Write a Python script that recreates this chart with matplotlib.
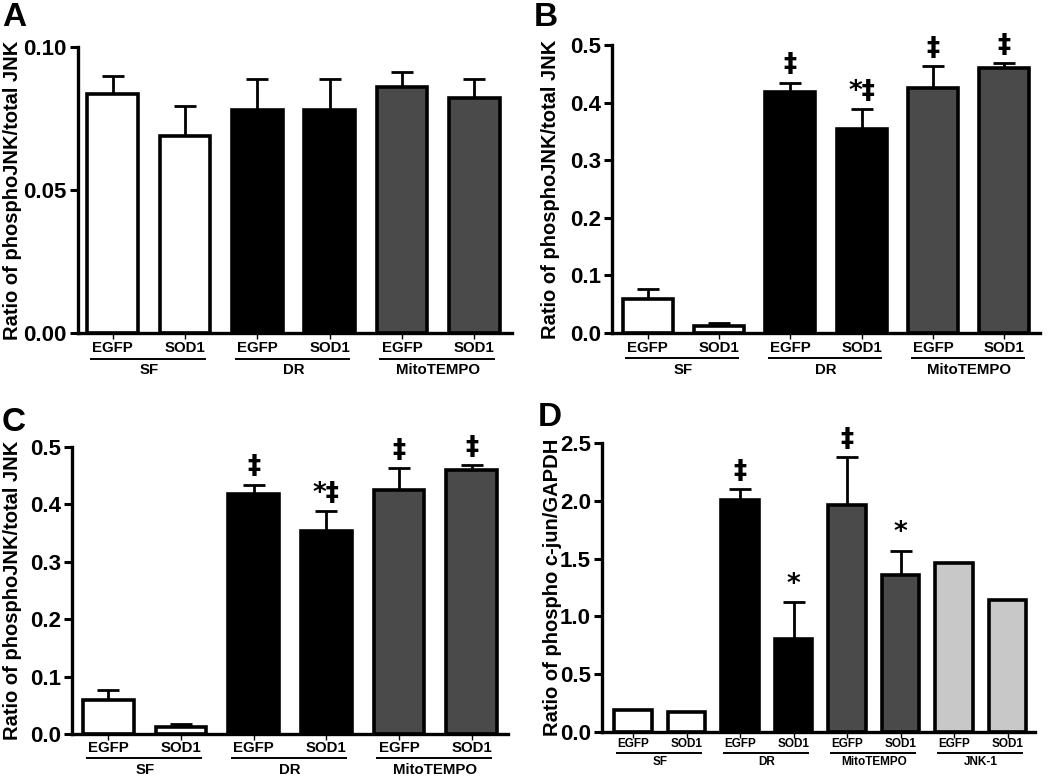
import numpy as np
import matplotlib.pyplot as plt
from matplotlib.transforms import offset_copy

plt.rcParams['font.family'] = ['Liberation Sans', 'DejaVu Sans']
plt.rcParams['font.weight'] = 'bold'

# panel A
a_vals = [0.0835, 0.069, 0.0779, 0.0779, 0.086, 0.0821]
a_errs = [0.0063, 0.0103, 0.0109, 0.0109, 0.0053, 0.0067]
# panels B and C (same data)
b_vals = [0.0595, 0.0127, 0.418, 0.354, 0.425, 0.4607]
b_errs = [0.0168, 0.0046, 0.0167, 0.035, 0.039, 0.0073]
b_marks = ['', '', '\u2021', '*\u2021', '\u2021', '\u2021']
# panel D
d_vals = [0.193, 0.170, 2.01, 0.807, 1.967, 1.355, 1.462, 1.145]
d_errs = [0, 0, 0.095, 0.318, 0.412, 0.214, 0, 0]
d_marks = ['', '', '\u2021', '*', '\u2021', '*', '', '']

sub_labels = ['EGFP', 'SOD1']
groups_abc = ['SF', 'DR', 'MitoTEMPO']
groups_d = ['SF', 'DR', 'MitoTEMPO', 'JNK-1']

WHITE, BLACK, DARK, LIGHT = 'white', 'black', '#4a4a4a', '#c8c8c8'
colors_abc = [WHITE, WHITE, BLACK, BLACK, DARK, DARK]
colors_d = [WHITE, WHITE, BLACK, BLACK, DARK, DARK, LIGHT, LIGHT]

fig = plt.figure(figsize=(10.5, 7.76), dpi=100)


def panel(rect, vals, errs, colors, groups, ymax, ticks, ticklabels, ylabel,
          letter, letter_xy, marks, label_x, xlim, offs, small=False):
    ax = fig.add_axes(rect)
    x = np.arange(len(vals))
    ax.errorbar(x, vals, yerr=[np.zeros(len(errs)), errs], fmt='none',
                ecolor='black', elinewidth=2, capsize=8, capthick=2, zorder=1)
    ax.bar(x, vals, width=0.7, color=colors, edgecolor='black',
           linewidth=2.6, zorder=2)
    ax.set_xlim(*xlim)
    ax.set_ylim(0, ymax)
    ax.set_yticks(ticks)
    ax.set_yticklabels(ticklabels, fontsize=16, fontweight='bold')
    ax.set_xticks(x)
    ax.set_xticklabels([])
    ax.tick_params(axis='y', width=2.2, length=6, pad=2)
    ax.tick_params(axis='x', width=1, length=4)
    for s in ['top', 'right']:
        ax.spines[s].set_visible(False)
    for s in ['left', 'bottom']:
        ax.spines[s].set_linewidth(2.4)
    ax.set_ylabel(ylabel, fontsize=14.5, fontweight='bold')
    ax.yaxis.set_label_coords(label_x, 0.5)

    fs = 8.5 if small else 10.8
    trans = ax.get_xaxis_transform()
    t_sub = offset_copy(trans, fig=fig, y=-offs[0], units='dots')
    t_line = offset_copy(trans, fig=fig, y=-offs[1], units='dots')
    t_grp = offset_copy(trans, fig=fig, y=-offs[2], units='dots')
    for i in x:
        ax.text(i, 0, sub_labels[i % 2], transform=t_sub, ha='center',
                va='center', fontsize=fs, fontweight='bold', clip_on=False)
    for g, name in enumerate(groups):
        i0 = 2 * g
        ax.plot([i0 - 0.3, i0 + 1.27], [0, 0], color='black', lw=1.4,
                transform=t_line, clip_on=False)
        ax.text(i0 + 0.5, 0, name, transform=t_grp, ha='center', va='center',
                fontsize=fs, fontweight='bold', clip_on=False)

    if marks is not None:
        for i in x:
            if marks[i]:
                ax.annotate(marks[i], xy=(i, vals[i] + errs[i]),
                            xytext=(0, 3), textcoords='offset points',
                            ha='center', va='bottom', fontsize=19,
                            fontweight='bold',
                            family=['DejaVu Sans'])

    fig.text(letter_xy[0], letter_xy[1], letter, fontsize=24,
             fontweight='bold', ha='left', va='top')
    return ax


panel([0.0743, 0.5709, 0.4133, 0.3686], a_vals, a_errs, colors_abc,
      groups_abc, 0.10, [0, 0.05, 0.10], ['0.00', '0.05', '0.10'],
      'Ratio of phosphoJNK/total JNK', 'A', (0.002, 0.998), None,
      -0.128, (-0.48, 5.52), (15, 26, 37))

bt = [0, 0.1, 0.2, 0.3, 0.4, 0.5]
btl = ['0.0', '0.1', '0.2', '0.3', '0.4', '0.5']
panel([0.5829, 0.5709, 0.4076, 0.3711], b_vals, b_errs, colors_abc,
      groups_abc, 0.5, bt, btl, 'Ratio of phosphoJNK/total JNK', 'B',
      (0.508, 0.998), b_marks, -0.121, (-0.5, 5.5), (15, 25, 37))

panel([0.0686, 0.0541, 0.4152, 0.3698], b_vals, b_errs, colors_abc,
      groups_abc, 0.5, bt, btl, 'Ratio of phosphoJNK/total JNK', 'C',
      (0.002, 0.475), b_marks, -0.115, (-0.5, 5.5), (14, 24, 36))

panel([0.5733, 0.0567, 0.4124, 0.3724], d_vals, d_errs, colors_d,
      groups_d, 2.5, [0, 0.5, 1.0, 1.5, 2.0, 2.5],
      ['0.0', '0.5', '1.0', '1.5', '2.0', '2.5'],
      'Ratio of phospho c-jun/GAPDH', 'D', (0.512, 0.482), d_marks,
      -0.092, (-0.58, 7.51), (12, 21, 30), small=True)

fig.savefig('out.png', dpi=100)
